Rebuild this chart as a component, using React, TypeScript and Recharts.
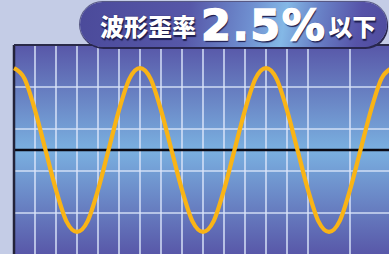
import React from "react";
import {
  LineChart,
  Line,
  XAxis,
  YAxis,
  CartesianGrid,
  ReferenceLine,
} from "recharts";

// time in grid divisions (each division = one grid cell)
const timeDiv = [
  0, 0.5, 1, 1.5, 2, 2.5, 3, 3.5, 4, 4.5, 5, 5.5,
  6, 6.5, 7, 7.5, 8, 8.5, 9, 9.5, 10, 10.5, 11, 11.5,
  12, 12.5, 13, 13.5, 14, 14.5, 15, 15.5, 16, 16.5, 17, 17.5, 18,
];
// waveform level in grid divisions
const waveLevel = [
  3.9, 3.4, 1.9, 0, -1.9, -3.4, -3.9, -3.4, -1.9, 0, 1.9, 3.4,
  3.9, 3.4, 1.9, 0, -1.9, -3.4, -3.9, -3.4, -1.9, 0, 1.9, 3.4,
  3.9, 3.4, 1.9, 0, -1.9, -3.4, -3.9, -3.4, -1.9, 0, 1.9, 3.4, 3.9,
];
const xTicks = [0, 1, 2, 3, 4, 5, 6, 7, 8, 9, 10, 11, 12, 13, 14, 15, 16, 17, 18];
const yTicks = [-5, -4, -3, -2, -1, 0, 1, 2, 3, 4, 5];

const badgeLabel = "波形歪率";
const badgeValue = "2.5%";
const badgeSuffix = "以下";

const data = timeDiv.map((t, i) => ({ t, v: waveLevel[i] }));

const textShadow = "1px 2px 1px #1e1d4e, 0 0 1px #1e1d4e";

export default function App() {
  return (
    <div
      style={{
        position: "absolute",
        left: 0,
        top: 0,
        width: 389,
        height: 254,
        overflow: "hidden",
        background: "#c4cce6",
      }}
    >
      <div style={{ position: "absolute", left: 0, top: 0 }}>
        <LineChart
          width={392}
          height={256}
          data={data}
          margin={{ top: 45, left: 14, right: 0, bottom: 1 }}
        >
          <defs>
            <linearGradient id="bgGrad" x1="0" y1="0" x2="0" y2="1">
              <stop offset="0%" stopColor="#5857a8" />
              <stop offset="50%" stopColor="#7ab0e0" />
              <stop offset="100%" stopColor="#5857a8" />
            </linearGradient>
          </defs>
          <XAxis
            dataKey="t"
            type="number"
            domain={[0, 18]}
            ticks={xTicks}
            hide
          />
          <YAxis type="number" domain={[-5, 5]} ticks={yTicks} hide />
          <CartesianGrid
            fill="url(#bgGrad)"
            fillOpacity={1}
            stroke="#dce6fa"
            strokeOpacity={0.9}
            strokeWidth={1.6}
          />
          <ReferenceLine y={0} stroke="#0a0a14" strokeWidth={2.5} />
          <ReferenceLine x={0} stroke="#23233a" strokeWidth={2.5} />
          <ReferenceLine y={5} stroke="#2a2a48" strokeWidth={2} />
          <Line
            dataKey="v"
            type="monotone"
            stroke="#f9b416"
            strokeWidth={4.2}
            dot={false}
            isAnimationActive={false}
          />
        </LineChart>
      </div>
      {/* badge background */}
      <div
        style={{
          position: "absolute",
          left: 80,
          top: 2,
          width: 307,
          height: 45,
          borderRadius: 23,
          background:
            "linear-gradient(100deg, #4b4a9a 0%, #5657a8 35%, #6f8fd0 55%, #84b8e6 66%, #6a84c8 76%, #5653a8 90%, #4f4c9e 100%)",
          boxShadow: "1px 2px 0 #28264e, 0 0 0 1px rgba(40,38,90,0.7)",
        }}
      />
      {/* badge text */}
      <div
        style={{
          position: "absolute",
          left: 100,
          top: 0,
          width: 289,
          height: 50,
          display: "flex",
          alignItems: "center",
          color: "#ffffff",
          fontFamily: "'Noto Sans CJK JP', 'DejaVu Sans', sans-serif",
          fontWeight: 900,
          whiteSpace: "nowrap",
        }}
      >
        <span style={{ fontSize: 24, lineHeight: "30px", textShadow, marginTop: 2 }}>
          {badgeLabel}
        </span>
        <span
          style={{
            fontSize: 43,
            fontFamily: "'DejaVu Sans', sans-serif",
            fontWeight: 700,
            textShadow,
            marginLeft: 5,
            lineHeight: "44px",
            letterSpacing: 1.5,
            WebkitTextStroke: "1.5px #ffffff",
          }}
        >
          {badgeValue}
        </span>
        <span
          style={{ fontSize: 24, lineHeight: "30px", textShadow, marginLeft: 2, marginTop: 2 }}
        >
          {badgeSuffix}
        </span>
      </div>
    </div>
  );
}
